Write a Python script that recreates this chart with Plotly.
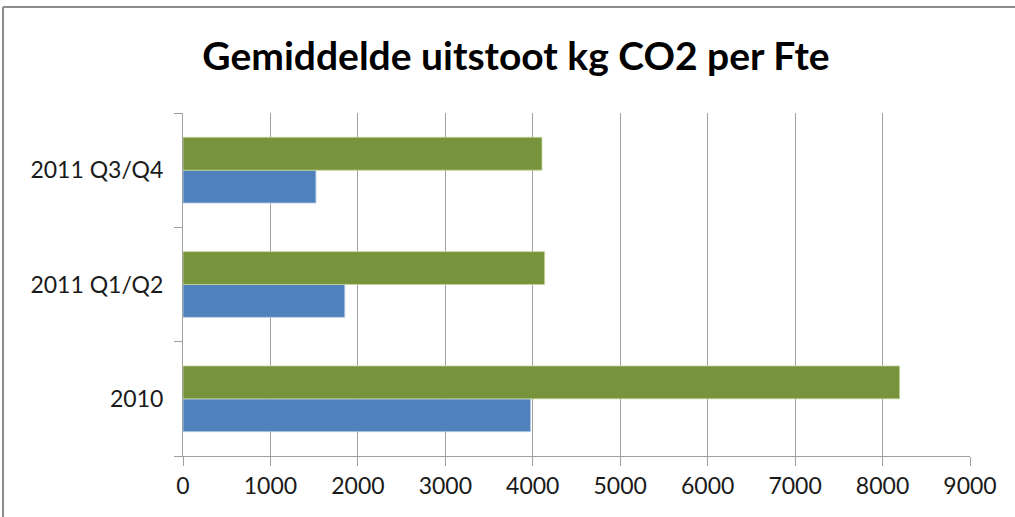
import plotly.graph_objects as go

categories = ["2010", "2011 Q1/Q2", "2011 Q3/Q4"]
blue_values = [3975, 1850, 1520]
green_values = [8195, 4135, 4105]
x_ticks = [0, 1000, 2000, 3000, 4000, 5000, 6000, 7000, 8000, 9000]

W, H = 1015, 517
L, R, T, B = 183, 45, 113, 61
pw, ph = W - L - R, H - T - B

def px_to_paper_x(px):
    return (px - L) / pw

def px_to_paper_y(py):
    return (H - B - py) / ph

fig = go.Figure()
fig.add_trace(go.Bar(y=categories, x=blue_values, orientation="h",
                     marker=dict(color="#4F81BD", line=dict(width=0.8, color="#B9CDE5")),
                     name="blue", showlegend=False))
fig.add_trace(go.Bar(y=categories, x=green_values, orientation="h",
                     marker=dict(color="#77933C", line=dict(width=0.8, color="#C3D69B")),
                     name="green", showlegend=False))

font_family = "Lato, 'Open Sans', sans-serif"

border = dict(color="#8C8C8C", width=2)

fig.update_layout(
    width=W, height=H,
    margin=dict(l=L, r=R, t=T, b=B, pad=0),
    paper_bgcolor="white", plot_bgcolor="white",
    barmode="group", bargap=0.425, bargroupgap=0,
    font=dict(family=font_family, size=23, color="#1a1a1a"),
    title=dict(text="<b>Gemiddelde uitstoot kg CO2 per Fte</b>",
               x=px_to_paper_x(516), xref="paper", xanchor="center",
               y=1 - 56 / H, yref="container", yanchor="middle",
               font=dict(family=font_family, size=39, color="#000000")),
    xaxis=dict(range=[0, 9000], tickvals=x_ticks, ticktext=[str(v) for v in x_ticks],
               showgrid=True, gridcolor="#A0A0A0", gridwidth=1,
               showline=True, linecolor="#A0A0A0", linewidth=1,
               ticks="outside", ticklen=9, tickcolor="#A0A0A0", tickwidth=1,
               zeroline=False, tickfont=dict(size=23)),
    yaxis=dict(type="category", categoryorder="array", categoryarray=categories,
               showgrid=False, showline=True, linecolor="#A0A0A0", linewidth=1,
               ticks="outside", tickson="boundaries", ticklen=8, tickcolor="#A0A0A0",
               tickwidth=1, ticklabelstandoff=14, tickfont=dict(size=23)),
    shapes=[
        dict(type="line", xref="paper", yref="paper",
             x0=px_to_paper_x(3), x1=px_to_paper_x(1015),
             y0=px_to_paper_y(7), y1=px_to_paper_y(7), line=border, layer="above"),
        dict(type="line", xref="paper", yref="paper",
             x0=px_to_paper_x(3), x1=px_to_paper_x(3),
             y0=px_to_paper_y(7), y1=px_to_paper_y(517), line=border, layer="above"),
    ],
)

fig.write_html("out.html", config={"displayModeBar": False},
               post_script="document.body.style.margin='0';document.body.style.overflow='hidden';")
